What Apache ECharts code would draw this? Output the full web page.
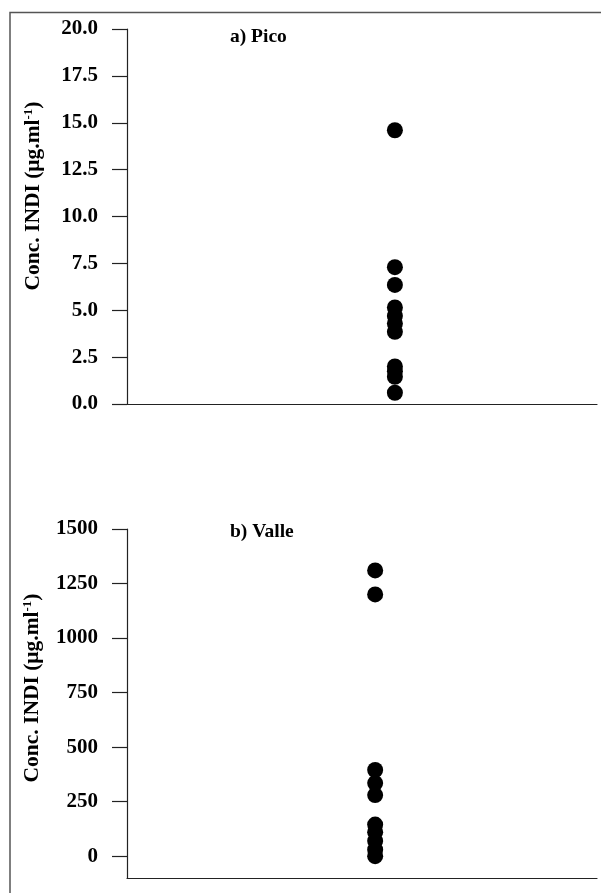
<!DOCTYPE html>
<html><head><meta charset="utf-8">
<script src="https://cdn.jsdelivr.net/npm/echarts@6/dist/echarts.min.js"></script>
<style>html,body{margin:0;padding:0;background:#fff}#c{width:601px;height:893px}</style>
</head><body><div id="c"></div>
<script>
// ---- data ----
const panelTitles = ['a) Pico', 'b) Valle'];
const picoValues = [14.6, 7.3, 6.35, 5.15, 4.7, 4.3, 3.85, 2.0, 1.75, 1.45, 0.6];
const valleValues = [1310, 1200, 395, 335, 280, 145, 110, 70, 30, 0];
const picoX = 5.7;    // horizontal position of the Pico column (0..10 scale)
const valleX = 5.28;  // horizontal position of the Valle column (0..10 scale)
const picoTicks = [0, 2.5, 5, 7.5, 10, 12.5, 15, 17.5, 20];
const valleTicks = [0, 250, 500, 750, 1000, 1250, 1500];
const yAxisTitle = 'Conc. INDI (μg.ml';
const yAxisSup = '-1';

// ---- chart ----
const FONT = '"Liberation Serif", "Times New Roman", serif';
const chart = echarts.init(document.getElementById('c'), null, {renderer: 'canvas'});

function yAxisBase(grid) {
  return {
    type: 'value', gridIndex: grid,
    axisLine: {show: true, onZero: false, lineStyle: {color: '#222', width: 1.2}},
    axisTick: {show: true, inside: false, length: 15, lineStyle: {color: '#222', width: 1.2}},
    splitLine: {show: false},
    axisLabel: {color: '#000', fontFamily: FONT, fontWeight: 'bold', fontSize: 21, margin: 29}
  };
}
function xAxisBase(grid) {
  return {
    type: 'value', gridIndex: grid, min: 0, max: 10,
    axisLine: {show: true, onZero: false, lineStyle: {color: '#222', width: 1.2}},
    axisTick: {show: false}, axisLabel: {show: false}, splitLine: {show: false}
  };
}
function nameText(cx, cy) {
  return {
    type: 'text', x: cx, y: cy, rotation: Math.PI / 2,
    style: {
      text: '{n|' + yAxisTitle + '}{s|' + yAxisSup + '}{n|)}',
      align: 'center', verticalAlign: 'middle',
      rich: {
        n: {fontFamily: FONT, fontWeight: 'bold', fontSize: 21.5, fill: '#000', color: '#000'},
        s: {fontFamily: FONT, fontWeight: 'bold', fontSize: 13, fill: '#000', color: '#000', verticalAlign: 'top'}
      }
    }
  };
}

const option = {
  backgroundColor: '#fff',
  animation: false,
  title: [
    {text: panelTitles[0], left: 225, top: 22, textStyle: {fontFamily: FONT, fontWeight: 'bold', fontSize: 19.5, color: '#000'}},
    {text: panelTitles[1], left: 225, top: 517, textStyle: {fontFamily: FONT, fontWeight: 'bold', fontSize: 19.5, color: '#000'}}
  ],
  grid: [
    {left: 127, top: 29, right: 4, height: 375},
    {left: 127, top: 529, right: 4, height: 349}
  ],
  xAxis: [xAxisBase(0), xAxisBase(1)],
  yAxis: [
    Object.assign(yAxisBase(0), {
      min: picoTicks[0], max: picoTicks[picoTicks.length - 1], interval: picoTicks[1] - picoTicks[0],
      axisLabel: Object.assign(yAxisBase(0).axisLabel, {formatter: v => v.toFixed(1)})
    }),
    (function () {
      const a = yAxisBase(1);
      a.min = -100; a.max = 1500;
      a.axisLabel.customValues = valleTicks;
      a.axisLabel.formatter = v => String(v);
      a.axisTick.customValues = valleTicks;
      return a;
    })()
  ],
  graphic: [
    {type: 'rect', shape: {x: 10, y: 12.5, width: 900, height: 1000}, style: {fill: 'none', stroke: '#555', lineWidth: 1.5}, silent: true},
    nameText(33, 196),
    nameText(32, 688)
  ],
  series: [
    {type: 'scatter', xAxisIndex: 0, yAxisIndex: 0, symbol: 'circle', symbolSize: 16,
     itemStyle: {color: '#000', opacity: 1}, data: picoValues.map(v => [picoX, v])},
    {type: 'scatter', xAxisIndex: 1, yAxisIndex: 1, symbol: 'circle', symbolSize: 16,
     itemStyle: {color: '#000', opacity: 1}, data: valleValues.map(v => [valleX, v])}
  ]
};
chart.setOption(option);
</script>
</body></html>
